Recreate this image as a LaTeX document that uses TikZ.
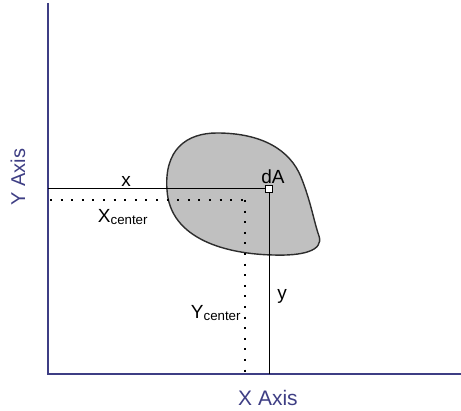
\documentclass[tikz,border=0pt]{standalone}
\usepackage{fontspec}
\setmainfont{Liberation Sans}
\usepackage{tikz}
\definecolor{axisblue}{RGB}{62, 62, 132}
\definecolor{areagray}{RGB}{192, 192, 192}
\definecolor{edgegray}{RGB}{45, 45, 45}

\begin{document}
\begin{tikzpicture}[
   x=1pt, y=-1pt,
   axis/.style={draw=axisblue, line width=1.3},
   axislabel/.style={text=axisblue, font=\fontsize{20}{22}\selectfont, inner sep=0},
   lbl/.style={text=black, font=\fontsize{19}{21}\selectfont, inner sep=0},
   arm/.style={draw=black, line width=1},
   dots/.style={draw=black, line width=2, dash pattern=on 2pt off 8.6pt},
   dasq/.style={rectangle, draw=black, fill=white, line width=1,
                minimum size=7, inner sep=0}
  ]
  \useasboundingbox (0, 0) rectangle (461, 411);

  % area
  \filldraw[fill=areagray, draw=edgegray, line width=1.4]
    (167, 190) .. controls (164, 150) and (186, 133) .. (217, 133)
    .. controls (262, 133) and (290, 150) .. (301, 177)
    .. controls (311, 202) and (314, 222) .. (319, 236)
    .. controls (324, 251) and (302, 256) .. (273, 255)
    .. controls (228, 254) and (170, 240) .. (167, 190) -- cycle;

  % axes
  \coordinate (O) at (48, 374);
  \coordinate (Ytop) at (48, 3);
  \coordinate (Xend) at (461, 374);
  \draw[axis] (Ytop) -- (O) -- (Xend);

  \node (dA) at (269, 189) [dasq] {};
  \coordinate (Xfoot) at (48, 189);
  \coordinate (Yfoot) at (269, 374);
  \draw[arm] (Xfoot) -- (dA.west);
  \draw[arm] (dA.south) -- (Yfoot);

  % centroid
  \coordinate (C) at (245, 200);
  \coordinate (Cx) at (50, 200);
  \coordinate (Cy) at (245, 373);
  \foreach \B/\E in {Cx/C, C/Cy} {
    \draw[dots] (\B) -- (\E);
  }

  \node (Lx) at (126, 181) [lbl] {x};
  \node (Ly) at (282, 296) [lbl] {y};
  \node (LdA) at (273, 177) [lbl] {dA};
  \node (Lxc) at (123, 217) [lbl] {X\textsubscript{center}};
  \node (Lyc) at (216, 313) [lbl] {Y\textsubscript{center}};

  \node (Xlabel) at (268, 398) [axislabel, font=\fontsize{21}{23}\selectfont] {X Axis};
  \node (Ylabel) at (18, 177) [axislabel, rotate=90] {Y Axis};

\end{tikzpicture}
\end{document}
